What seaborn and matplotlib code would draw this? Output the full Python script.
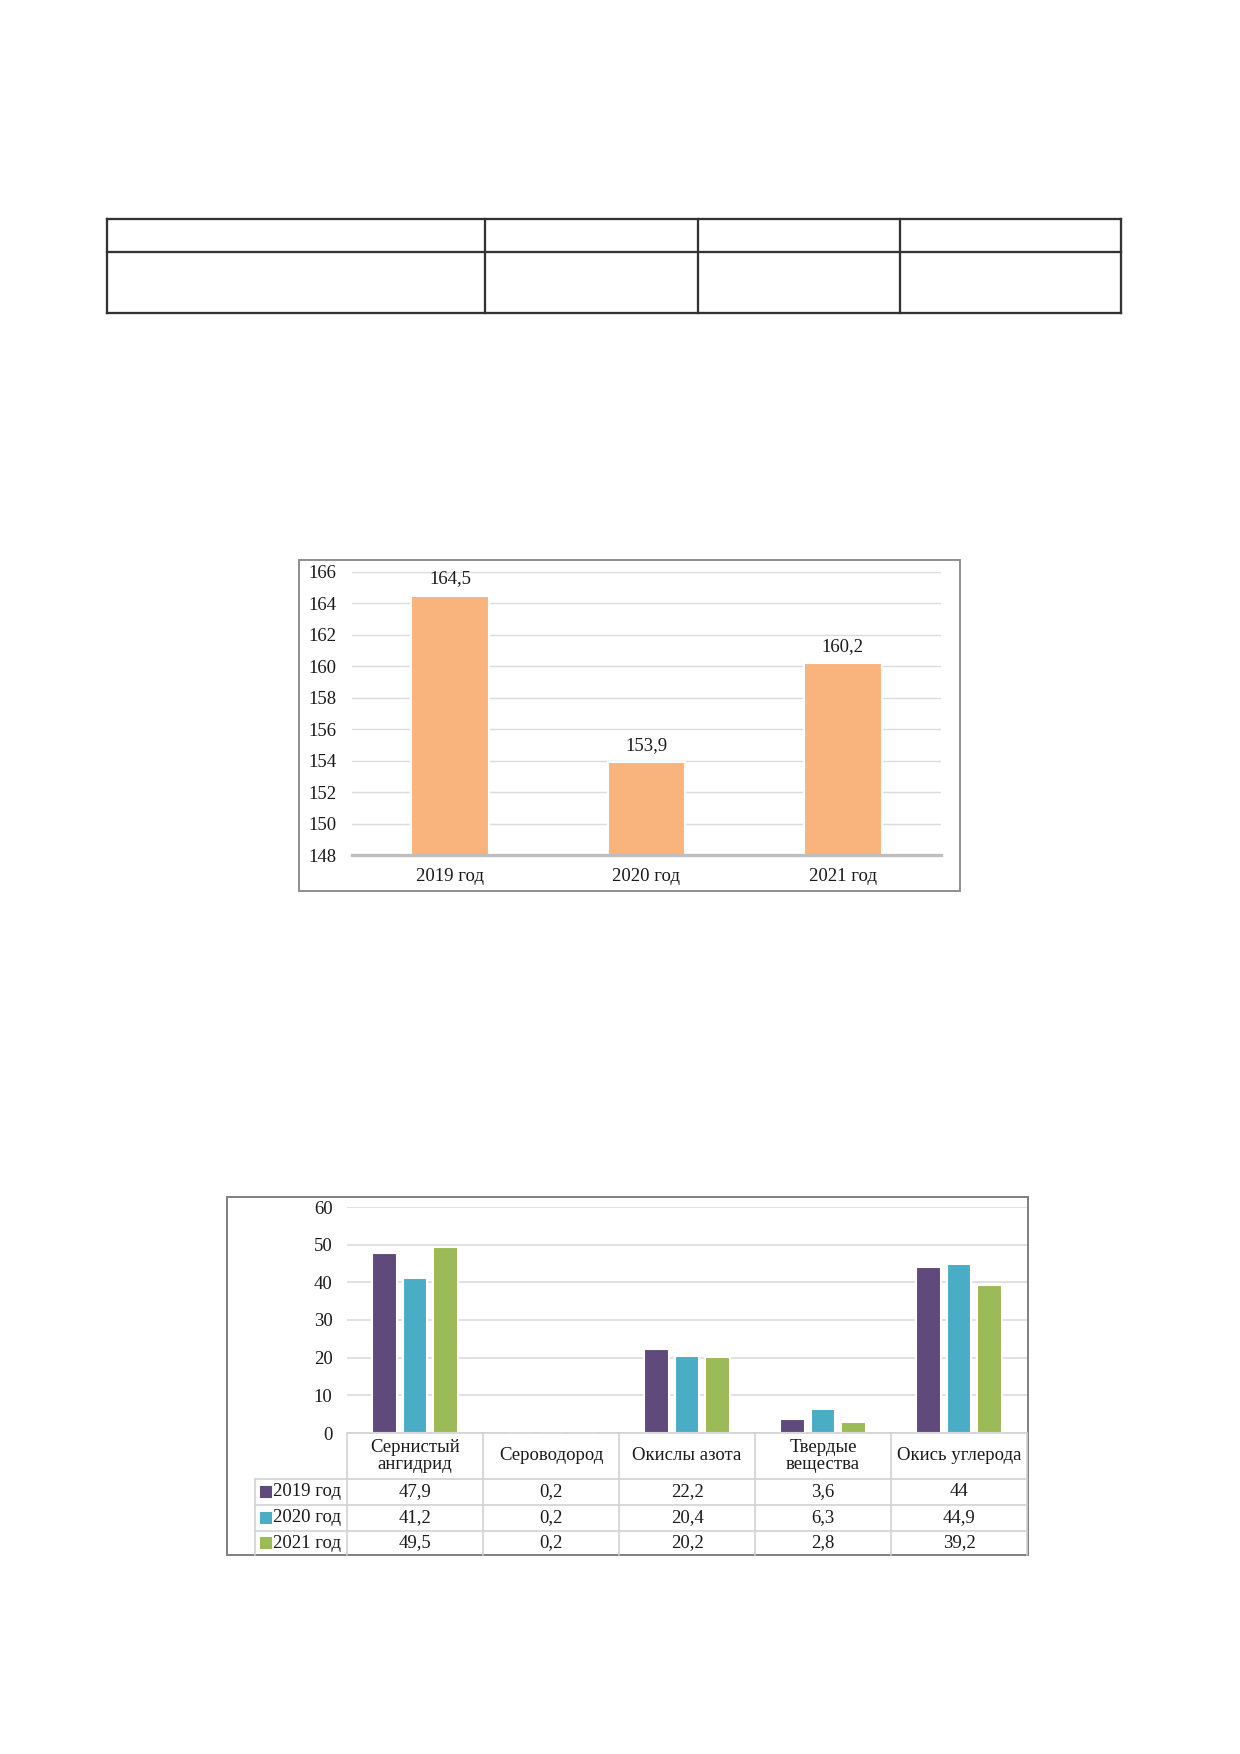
import numpy as np
import pandas as pd
import matplotlib
matplotlib.use("Agg")
import matplotlib.pyplot as plt
from matplotlib.patches import Rectangle
import seaborn as sns

# ---------------- data ----------------
years1 = ["2019 год", "2020 год", "2021 год"]
values1 = [164.5, 153.9, 160.2]

substances = ["Сернистый\nангидрид", "Сероводород", "Окислы азота",
              "Твердые\nвещества", "Окись углерода"]
series_years = ["2019 год", "2020 год", "2021 год"]
vals_2019 = [47.9, 0.2, 22.2, 3.6, 44]
vals_2020 = [41.2, 0.2, 20.4, 6.3, 44.9]
vals_2021 = [49.5, 0.2, 20.2, 2.8, 39.2]
y1_ticks = list(range(148, 167, 2))
y2_ticks = list(range(0, 61, 10))

# ---------------- style ----------------
sns.set_theme(style="white")
TXT = "#1a1a1a"
plt.rcParams["font.family"] = ["Liberation Serif", "DejaVu Serif"]
plt.rcParams["text.color"] = TXT
plt.rcParams["xtick.color"] = TXT
plt.rcParams["ytick.color"] = TXT
FS = 9

ORANGE = "#F9B47E"
PAL = ["#604A7B", "#4BACC6", "#9BBB59"]
GRID = "#DCDCDC"

W, H = 1240, 1754
fig = plt.figure(figsize=(W / 150, H / 150), dpi=150)
fig.patch.set_facecolor("white")


def px_axes(x0, y0, x1, y1, z=1):
    ax = fig.add_axes([x0 / W, 1 - y1 / H, (x1 - x0) / W, (y1 - y0) / H], zorder=z)
    ax.set_facecolor("none")
    return ax


def fmt(v):
    return f"{v:g}".replace(".", ",")


# decoration layer (page table + chart frames)
deco = fig.add_axes([0, 0, 1, 1], zorder=0)
deco.set_xlim(0, W)
deco.set_ylim(H, 0)
deco.axis("off")

# empty table at the top of the page
TL = "#333333"
tx0, tx1 = 107, 1121
ty = [219, 252, 313]
tcols = [107, 485, 698, 900, 1121]
for y in ty:
    deco.plot([tx0, tx1], [y, y], color=TL, lw=1.1, solid_capstyle="projecting")
for x in tcols:
    deco.plot([x, x], [ty[0], ty[-1]], color=TL, lw=1.1, solid_capstyle="projecting")

# chart frames
deco.add_patch(Rectangle((299, 560), 661, 331, fill=False, ec="#8A8A8A", lw=0.9))
deco.add_patch(Rectangle((227, 1197), 801, 358, fill=False, ec="#7A7A7A", lw=0.9))

# ---------------- chart 1 ----------------
ax1 = px_axes(352, 572, 941, 855, z=2)
sns.barplot(x=years1, y=values1, color=ORANGE, saturation=1, width=0.395, ax=ax1)
ax1.set_ylim(148, 166)
ax1.set_yticks(y1_ticks)
ax1.set_yticklabels([str(t) for t in y1_ticks], fontsize=FS)
ax1.set_xticks(range(len(years1)))
ax1.set_xticklabels(years1, fontsize=FS)
ax1.yaxis.grid(True, color=GRID, lw=0.7)
ax1.set_axisbelow(True)
for s in ["left", "right", "top"]:
    ax1.spines[s].set_visible(False)
ax1.spines["bottom"].set_color("#BEBEBE")
ax1.spines["bottom"].set_linewidth(1.6)
ax1.tick_params(axis="y", length=0, pad=7.5)
ax1.tick_params(axis="x", length=0, pad=6)
ax1.set_xlabel("")
ax1.set_ylabel("")
ax1.bar_label(ax1.containers[0], labels=[fmt(v) for v in values1],
              padding=4, fontsize=FS, color=TXT)

# ---------------- chart 2 ----------------
df = pd.DataFrame({
    "substance": substances * 3,
    "year": [series_years[0]] * 5 + [series_years[1]] * 5 + [series_years[2]] * 5,
    "value": vals_2019 + vals_2020 + vals_2021,
})
ax2 = px_axes(347, 1207, 1027, 1433, z=2)
sns.barplot(data=df, x="substance", y="value", hue="year", order=substances,
            hue_order=series_years, palette=PAL, saturation=1,
            width=0.67, gap=0.19, legend=False, ax=ax2)
ax2.set_ylim(0, 60)
ax2.set_xlim(-0.5, len(substances) - 0.5)
ax2.set_yticks(y2_ticks)
ax2.set_yticklabels([str(t) for t in y2_ticks], fontsize=FS)
ax2.set_xticks(range(len(substances)))
ax2.set_xticklabels([])
ax2.yaxis.grid(True, color=GRID, lw=0.8)
ax2.set_axisbelow(True)
for s in ax2.spines.values():
    s.set_visible(False)
ax2.tick_params(axis="y", length=0, pad=7)
ax2.tick_params(axis="x", length=0)
ax2.set_xlabel("")
ax2.set_ylabel("")

# data table under chart 2
cat_w = (1027 - 347) / len(substances)
leg_w = (347 - 255) / cat_w
xl = -0.5 - leg_w
xr = len(substances) - 0.5
ax3 = px_axes(255, 1433, 1027, 1555, z=3)
ax3.set_xlim(xl, xr)
ax3.set_ylim(122, 0)
ax3.axis("off")
rows = [46, 72, 98, 122]
LC = "#D2D2D2"
ax3.plot([-0.5, xr], [0, 0], color=LC, lw=0.8, clip_on=False)
for y in rows[:-1]:
    ax3.plot([xl, xr], [y, y], color=LC, lw=0.8, clip_on=False)
for i in range(len(substances) + 1):
    ax3.plot([i - 0.5, i - 0.5], [0, 122], color=LC, lw=0.8, clip_on=False)
ax3.plot([xl, xl], [rows[0], 122], color=LC, lw=0.8, clip_on=False)

for i, name in enumerate(substances):
    ax3.text(i, rows[0] / 2, name, ha="center", va="center",
             fontsize=FS, linespacing=1.0)

series_vals = [vals_2019, vals_2020, vals_2021]
for r, (yr, vals, col) in enumerate(zip(series_years, series_vals, PAL)):
    yc = (rows[r] + rows[r + 1]) / 2
    ax3.plot([xl + 11 / cat_w], [yc], marker="s", ms=4.8, color=col,
             ls="none", clip_on=False)
    ax3.text(xl + 18 / cat_w, yc, yr, ha="left", va="center", fontsize=FS)
    for i, v in enumerate(vals):
        ax3.text(i, yc, fmt(v), ha="center", va="center", fontsize=FS)

fig.savefig("out.png", dpi=150, facecolor="white")
